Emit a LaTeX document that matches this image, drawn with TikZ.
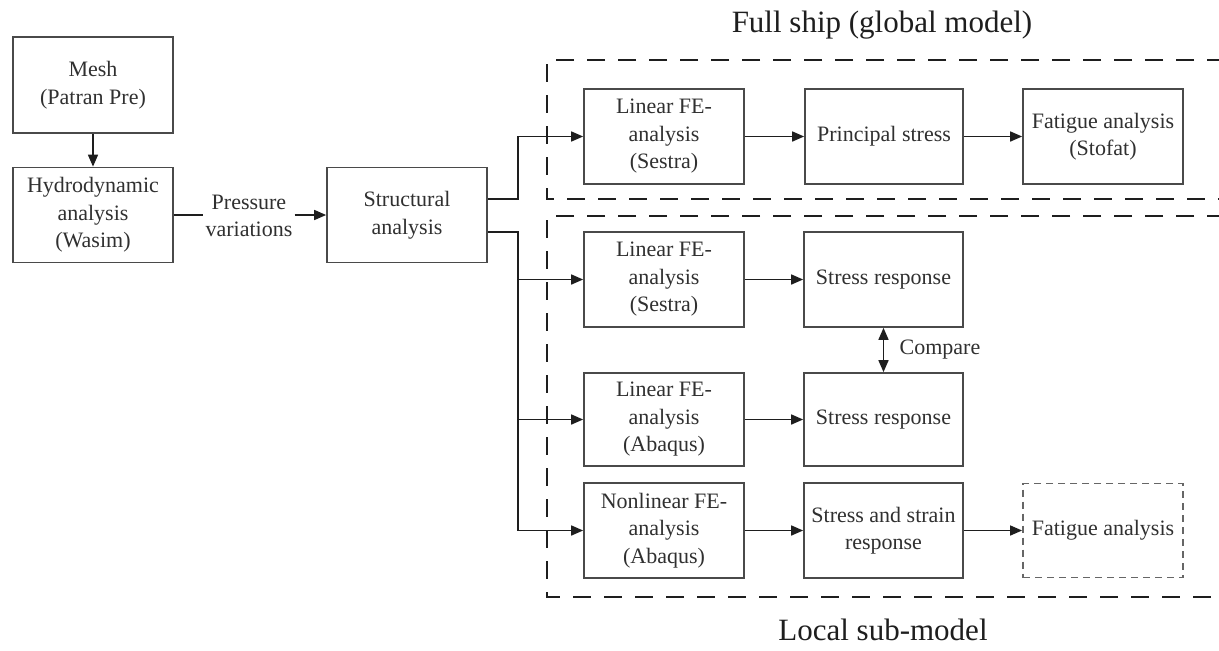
\documentclass[tikz,border=0pt]{standalone}
\usepackage{fontspec}
\setmainfont{Liberation Serif}
\usetikzlibrary{arrows.meta,calc}
\definecolor{boxline}{HTML}{4A4A4A}
\definecolor{txt}{HTML}{303030}
\definecolor{conn}{HTML}{1E1E1E}
\begin{document}
\begin{tikzpicture}[x=1pt,y=-1pt,
  box/.style={draw=boxline,line width=1.7pt,minimum width=160pt,minimum height=95pt,
    align=center,text=txt,inner sep=2pt,font=\fontsize{22}{27.5}\selectfont},
  plain/.style={align=center,text=txt,inner sep=2pt,font=\fontsize{22}{27.5}\selectfont},
  ttl/.style={text=conn,inner sep=0pt,font=\fontsize{31}{36}\selectfont},
  conn/.style={draw=conn,line width=1.6pt},
  arr/.style={conn,-{Triangle[length=12pt,width=10pt]}},
  darr/.style={conn,{Triangle[length=12pt,width=10pt]}-{Triangle[length=12pt,width=10pt]}},
  outer/.style={draw=conn,line width=2.6pt,dash pattern=on 18pt off 13pt},
  dbox/.style={box,draw=black!60,line width=1.8pt,dash pattern=on 7pt off 5pt}]
\useasboundingbox (0,0) rectangle (1219,651);
\fill[white] (0,0) rectangle (1219,651);
% outer dashed regions
\draw[outer] (1225,60) -- (547,60) -- (547,199) -- (1225,199);
\draw[outer] (1225,216) -- (547,216) -- (547,597) -- (1225,597);
\node[ttl] (tg) at (882,25) {Full ship (global model)};
\node[ttl] (tl) at (883,630) {Local sub-model};
% left chain
\node[box,minimum height=96pt] (mesh) at (93,85) {Mesh\\(Patran Pre)};
\node[box] (hydro) at (93,215) {Hydrodynamic\\analysis\\(Wasim)};
\node[plain] (pv) at (249,216) {Pressure\\variations};
\node[box] (struct) at (407,215) {Structural\\analysis};
% global model row
\node[box] (lin1) at (664,136.5) {Linear FE-\\analysis\\(Sestra)};
\node[box,minimum width=158pt] (prin) at (884,136.5) {Principal stress};
\node[box] (fat1) at (1103,136.5) {Fatigue analysis\\(Stofat)};
% local sub-model rows
\node[box] (lin2) at (664,279.5) {Linear FE-\\analysis\\(Sestra)};
\node[box,minimum width=159pt] (str1) at (883.5,279.5) {Stress response};
\node[box,minimum height=93pt] (lin3) at (664,419.5) {Linear FE-\\analysis\\(Abaqus)};
\node[box,minimum width=159pt,minimum height=93pt] (str2) at (883.5,419.5) {Stress response};
\node[box] (lin4) at (664,530.5) {Nonlinear FE-\\analysis\\(Abaqus)};
\node[box,minimum width=159pt] (str3) at (883.5,530.5) {Stress and strain\\response};
\node[dbox,minimum height=94pt] (fat2) at (1103,530.5) {Fatigue analysis};
\node[plain] (cmp) at (940,350) {Compare};
% connectors
\draw[arr] (mesh.south) -- (hydro.north);
\draw[conn] (hydro.east) -- (pv.west |- hydro.east);
\draw[arr] (pv.east |- struct.west) -- (struct.west);
\coordinate (up) at (518,199);
\coordinate (bus) at (518,232);
\draw[arr] ($(struct.east)+(0,-16)$) -- (up) |- (lin1.west);
\draw[arr] ($(struct.east)+(0,17)$) -- (bus) |- (lin4.west);
\draw[arr] (bus |- lin2.west) -- (lin2.west);
\draw[arr] (bus |- lin3.west) -- (lin3.west);
\draw[arr] (lin1.east) -- (prin.west);
\draw[arr] (prin.east) -- (fat1.west);
\draw[arr] (lin2.east) -- (str1.west);
\draw[arr] (lin3.east) -- (str2.west);
\draw[arr] (lin4.east) -- (str3.west);
\draw[arr] (str3.east) -- (fat2.west);
\draw[darr] (str1.south) -- (str2.north);
\end{tikzpicture}
\end{document}
